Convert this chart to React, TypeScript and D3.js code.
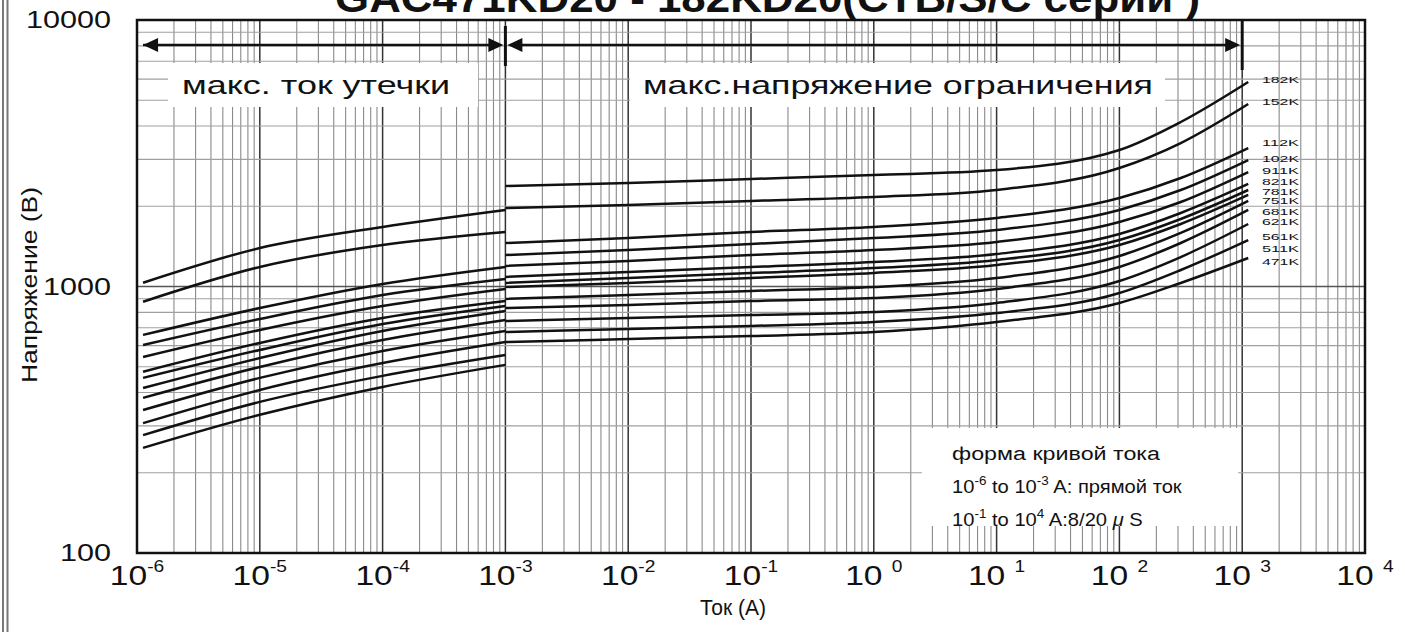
import React from "react";
import * as d3 from "d3";

const W = 1405;
const H = 632;

const seriesLabels = ["182K", "152K", "112K", "102K", "911K", "821K", "781K", "751K", "681K", "621K", "561K", "511K", "471K"];

// leakage region (DC current), A
const leakCurrent = [1.12e-6, 1e-5, 1e-4, 1e-3];
const leakVoltage = [
  [1033, 1394, 1672, 1937],
  [877, 1184, 1431, 1602],
  [658, 830, 1022, 1184],
  [603, 755, 929, 1067],
  [544, 687, 845, 979],
  [479, 614, 762, 882],
  [454, 578, 723, 845],
  [416, 539, 681, 809],
  [382, 499, 630, 749],
  [344, 454, 573, 681],
  [307, 409, 516, 619],
  [277, 369, 462, 553],
  [248, 330, 420, 508],
];

// clamping region (8/20 us pulse), A
const clampCurrent = [1e-3, 1e-2, 1e-1, 1, 10, 100, 316, 1120];
const clampVoltage = [
  [2384, 2446, 2532, 2621, 2736, 3252, 4142, 5853],
  [1970, 2022, 2094, 2167, 2302, 2783, 3454, 4840],
  [1456, 1520, 1602, 1672, 1807, 2148, 2554, 3309],
  [1313, 1371, 1444, 1520, 1629, 1937, 2302, 2983],
  [1194, 1247, 1313, 1371, 1469, 1746, 2076, 2689],
  [1086, 1134, 1184, 1236, 1324, 1574, 1887, 2425],
  [1031, 1076, 1124, 1173, 1257, 1494, 1792, 2302],
  [996, 1031, 1076, 1124, 1204, 1431, 1716, 2205],
  [898, 929, 962, 996, 1076, 1301, 1588, 2094],
  [830, 852, 882, 905, 979, 1184, 1456, 1937],
  [742, 762, 782, 802, 867, 1049, 1290, 1716],
  [675, 693, 711, 736, 795, 945, 1153, 1494],
  [619, 635, 652, 675, 736, 867, 1031, 1279],
];
// voltage at which each series label is written
const labelVoltage = [5955, 4924, 3484, 3035, 2736, 2488, 2282, 2094, 1920, 1746, 1547, 1394, 1236];

const xTickExps = [-6, -5, -4, -3, -2, -1, 0, 1, 2, 3, 4];
const yTicks = [100, 1000, 10000];
const yTickLabels = ["100", "1000", "10000"];

const title = "GAC471KD20 - 182KD20(СТВ/S/C серии )";
const leakText = "макс. ток утечки";
const clampText = "макс.напряжение ограничения";
const yTitle = "Напряжение (В)";
const xTitle = "Ток (A)";

const FONT = "'Liberation Sans', Arial, sans-serif";

export default function App() {
  const left = 137, right = 1365, top = 20, bottom = 553;
  const x = d3.scaleLog().domain([1e-6, 1e4]).range([left, right]);
  const y = d3.scaleLog().domain([100, 10000]).range([bottom, top]);

  const vLines: { v: number; major: boolean }[] = [];
  for (let d = -6; d <= 3; d++) {
    for (let k = 1; k <= 9; k++) vLines.push({ v: k * Math.pow(10, d), major: k === 1 });
  }
  const hLines: { v: number; major: boolean }[] = [];
  for (let d = 2; d <= 3; d++) {
    for (let k = 1; k <= 9; k++) hLines.push({ v: k * Math.pow(10, d), major: k === 1 });
  }

  const line = d3
    .line<[number, number]>()
    .x((p) => x(p[0]))
    .y((p) => y(p[1]))
    .curve(d3.curveMonotoneX);

  const arrowY = 45;
  const tri = (xt: number, dir: number) =>
    `M${xt},${arrowY} L${xt - dir * 15},${arrowY - 7} L${xt - dir * 15},${arrowY + 7} Z`;

  const xLeak0 = x(leakCurrent[0]) - 4;
  const xMid = x(1e-3);
  const x3 = x(1e3);

  return (
    <div style={{ position: "absolute", left: 0, top: 0, width: W, height: H, background: "#fff" }}>
      <svg width={W} height={H} style={{ display: "block" }} fontFamily={FONT}>
        <rect x={0} y={0} width={W} height={H} fill="#fff" />
        {/* frame lines at left edge */}
        <line x1={3} x2={3} y1={0} y2={H} stroke="#777" strokeWidth={2} />
        <line x1={7.5} x2={7.5} y1={0} y2={H} stroke="#777" strokeWidth={2} />

        {/* title (cut at top) */}
        <text
          x={335}
          y={12}
          fontSize={40}
          fontWeight="bold"
          textLength={865}
          lengthAdjust="spacingAndGlyphs"
          fill="#111"
        >
          {title}
        </text>

        {/* grid */}
        <g>
          {vLines.map((g, i) => (
            <line
              key={"v" + i}
              x1={x(g.v)}
              x2={x(g.v)}
              y1={top}
              y2={bottom}
              stroke={g.major ? "#333" : "#8a8a8a"}
              strokeWidth={g.major ? 1.5 : 1.1}
            />
          ))}
          {hLines.map((g, i) => (
            <line
              key={"h" + i}
              x1={left}
              x2={right}
              y1={y(g.v)}
              y2={y(g.v)}
              stroke={g.major ? "#555" : "#a0a0a0"}
              strokeWidth={g.major ? 1.4 : 1.1}
            />
          ))}
        </g>

        {/* white boxes for texts */}
        <rect x={168} y={63} width={310} height={44} fill="#fff" />
        <rect x={630} y={63} width={535} height={44} fill="#fff" />
        <rect x={922} y={428} width={316} height={98} fill="#fff" />

        {/* curves */}
        <g fill="none" stroke="#111" strokeWidth={2.5}>
          {leakVoltage.map((vals, i) => (
            <path key={"l" + i} d={line(leakCurrent.map((c, j) => [c, vals[j]]) as [number, number][]) || ""} />
          ))}
          {clampVoltage.map((vals, i) => (
            <path key={"c" + i} d={line(clampCurrent.map((c, j) => [c, vals[j]]) as [number, number][]) || ""} />
          ))}
        </g>

        {/* series labels */}
        {seriesLabels.map((s, i) => (
          <text
            key={s}
            x={1262}
            y={y(labelVoltage[i]) + 3.5}
            fontSize={9}
            textLength={37}
            lengthAdjust="spacingAndGlyphs"
            fill="#111"
          >
            {s}
          </text>
        ))}

        {/* range arrows */}
        <g stroke="#111" fill="#111">
          <line x1={xLeak0 + 4} x2={xMid - 8} y1={arrowY} y2={arrowY} strokeWidth={2.5} />
          <path d={tri(xLeak0 + 4, -1)} stroke="none" />
          <path d={tri(xMid - 2, 1)} stroke="none" />
          <line x1={xMid} x2={xMid} y1={26} y2={66} strokeWidth={3} />
          <line x1={xMid + 6} x2={x3 - 6} y1={arrowY} y2={arrowY} strokeWidth={2.5} />
          <path d={tri(xMid + 2, -1)} stroke="none" />
          <path d={tri(x3 - 2, 1)} stroke="none" />
          <line x1={x3} x2={x3} y1={top} y2={70} strokeWidth={3} />
        </g>

        <text x={316} y={94} fontSize={26} textAnchor="middle" textLength={268} lengthAdjust="spacingAndGlyphs" fill="#111">
          {leakText}
        </text>
        <text x={898} y={94} fontSize={26} textAnchor="middle" textLength={510} lengthAdjust="spacingAndGlyphs" fill="#111">
          {clampText}
        </text>

        {/* annotation */}
        <g fill="#111" fontSize={18}>
          <text x={952} y={460} textLength={208} lengthAdjust="spacingAndGlyphs">форма кривой тока</text>
          <g transform="translate(952,493) scale(1.12,1)">
            <text x={0} y={0}>
              <tspan>10</tspan>
              <tspan dy={-8} fontSize={12}>-6</tspan>
              <tspan dy={8}> to 10</tspan>
              <tspan dy={-8} fontSize={12}>-3</tspan>
              <tspan dy={8}> A:  прямой ток</tspan>
            </text>
          </g>
          <g transform="translate(952,526) scale(1.12,1)">
            <text x={0} y={0}>
              <tspan>10</tspan>
              <tspan dy={-8} fontSize={12}>-1</tspan>
              <tspan dy={8}> to 10</tspan>
              <tspan dy={-8} fontSize={12}>4</tspan>
              <tspan dy={8}>  A:8/20 </tspan>
              <tspan fontStyle="italic">μ</tspan>
              <tspan> S</tspan>
            </text>
          </g>
        </g>

        {/* plot border */}
        <rect x={left} y={top} width={right - left} height={bottom - top} fill="none" stroke="#111" strokeWidth={2.5} />

        {/* y tick labels */}
        {yTicks.map((t, i) => (
          <text
            key={"yt" + t}
            x={111}
            y={y(t) + 8}
            fontSize={24}
            textAnchor="end"
            textLength={17 * yTickLabels[i].length}
            lengthAdjust="spacingAndGlyphs"
            fill="#111"
          >
            {yTickLabels[i]}
          </text>
        ))}

        {/* x tick labels */}
        {xTickExps.map((e) => (
          <g key={"xt" + e} transform={`translate(${x(Math.pow(10, e))},585) scale(1.2,1)`}>
            <text x={0} y={0} fontSize={28} textAnchor="middle" fill="#111">
              <tspan>{e >= 0 ? "10 " : "10"}</tspan>
              <tspan dy={-13} fontSize={16}>{String(e)}</tspan>
            </text>
          </g>
        ))}

        {/* axis titles */}
        <text
          transform={`translate(37,285) rotate(-90)`}
          fontSize={22}
          textAnchor="middle"
          fill="#111"
          textLength={196}
          lengthAdjust="spacingAndGlyphs"
        >
          {yTitle}
        </text>
        <text x={733} y={615} fontSize={22} textAnchor="middle" textLength={66} lengthAdjust="spacingAndGlyphs" fill="#111">
          {xTitle}
        </text>
      </svg>
    </div>
  );
}
